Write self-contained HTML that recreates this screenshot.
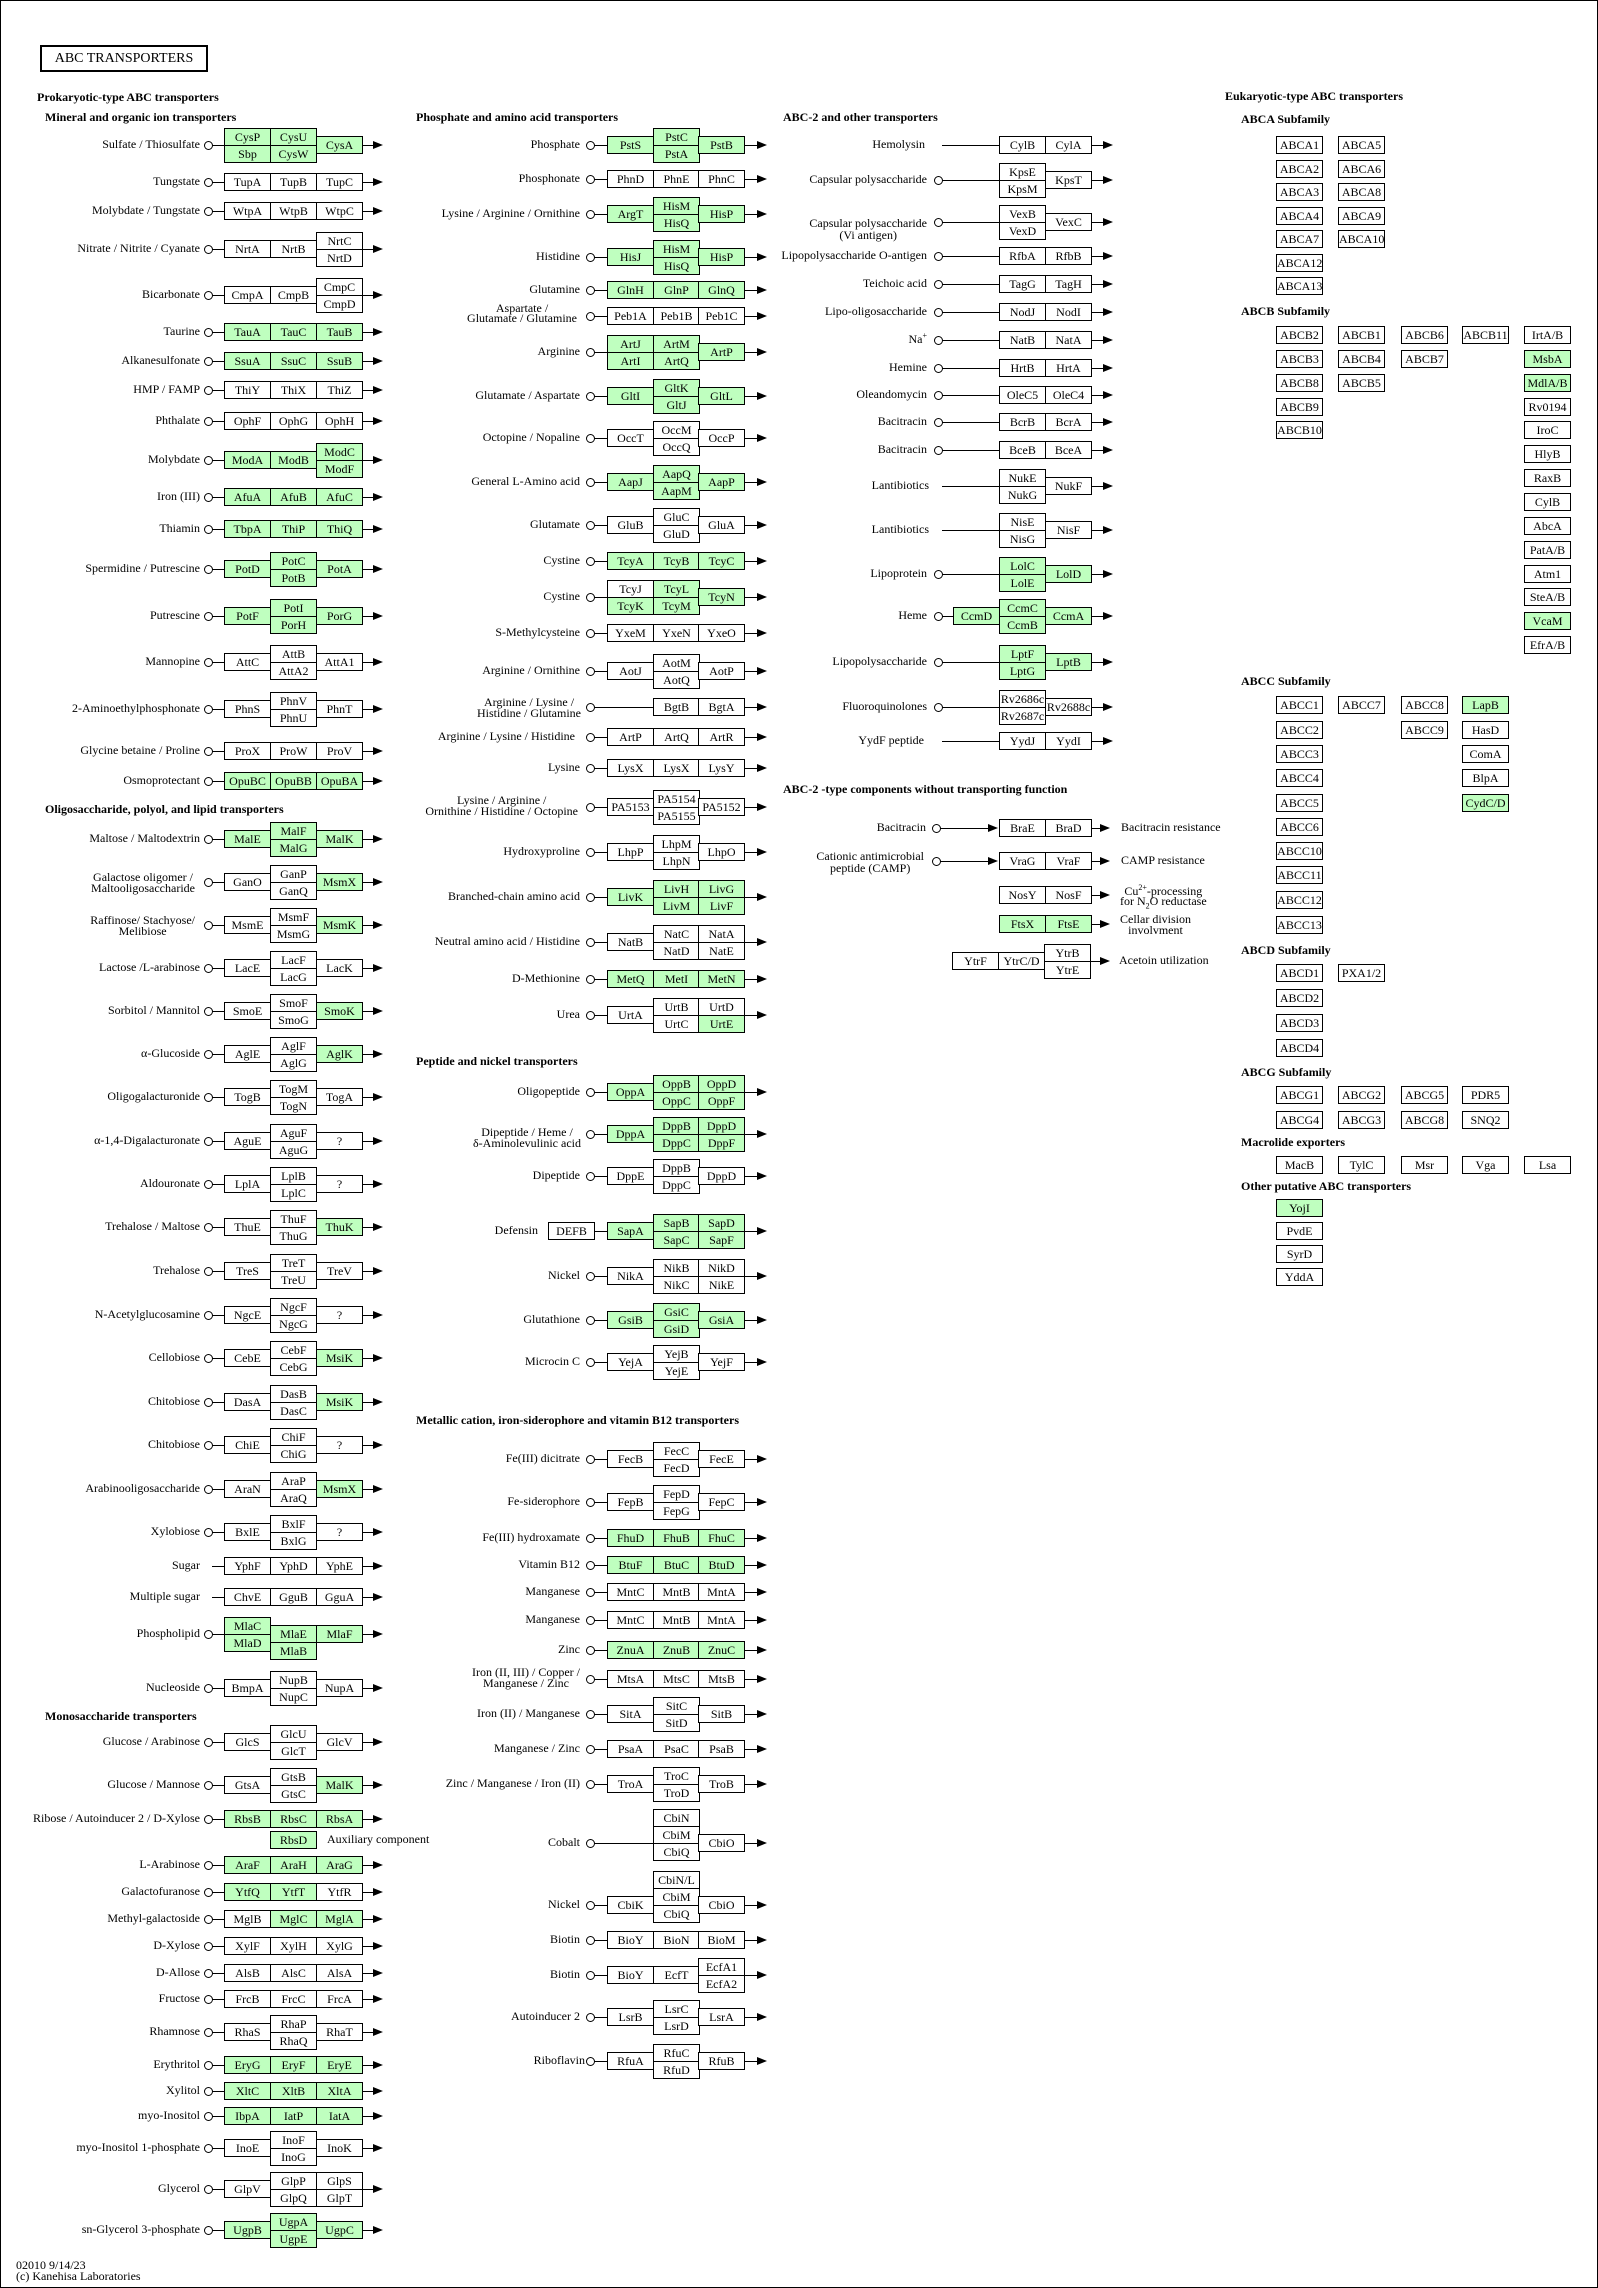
<!DOCTYPE html>
<html><head><meta charset="utf-8"><style>
body{margin:0;background:#fff}
#m{position:relative;width:1598px;height:2288px;overflow:hidden;font-family:"Liberation Serif",serif;font-size:12px;color:#000;background:#fff}
#m>*,#m .r>*{position:absolute;font-style:normal}
#m sup,#m sub{position:static;font-size:8px;line-height:0}
.fr{left:0;top:0;width:1598px;height:2288px;border:1px solid #000;box-sizing:border-box}
.r{left:0;width:1598px;height:0}
#m b,#m u{width:47px;height:18px;border:1px solid #000;box-sizing:border-box;background:#fff;text-align:center;line-height:16px;white-space:nowrap;font-weight:normal;text-decoration:none}
#m u{background:#bfffbf}
.s{top:-9px}.t{top:-17px}.u{top:0}.v{top:-34px}.w{top:8px}
.c{width:9px;height:9px;top:-4px;border:1.3px solid #000;border-radius:50%;box-sizing:border-box;background:#fff}
.n{height:0;top:0;border-top:1px solid #000}
.a{width:0;height:0;top:-4px;border-left:10px solid #000;border-top:4px solid transparent;border-bottom:4px solid transparent}
.L{top:-8px;line-height:15px;white-space:nowrap;text-align:right}
.L2{line-height:11px;white-space:nowrap;text-align:center}
.h{font-weight:bold;white-space:nowrap;line-height:13px}
.k1 .p1{left:224px}.k1 .p2{left:270px}.k1 .p3{left:316px}
.k1 .c{left:204px}.k1 .n{left:212px;width:162px}.k1 .a{left:373px}.k1 .L,.k1 .L2{right:1398px}
.k2 .p0{left:548px}.k2 .p1{left:607px}.k2 .p2{left:653px}.k2 .p3{left:698px}
.k2 .c{left:586px}.k2 .n{left:594px;width:164px}.k2 .a{left:757px}.k2 .L,.k2 .L2{right:1018px}
.k3 .p0{left:953px}.k3 .p1{left:999px}.k3 .p2{left:1045px}
.k3 .c{left:934px}.k3 .n{left:942px;width:162px}.k3 .a{left:1103px}.k3 .L,.k3 .L2{right:671px}
</style></head><body><div id="m">
<div class="fr"></div>
<i style="left:40px;top:45px;width:168px;height:27px;border:2px solid #000;box-sizing:border-box;font-size:14px;text-align:center;line-height:24px;white-space:nowrap">ABC TRANSPORTERS</i>

<i class="h" style="left:37px;top:91px">Prokaryotic-type ABC transporters</i>
<i class="h" style="left:45px;top:111px">Mineral and organic ion transporters</i>
<i class="h" style="left:45px;top:803px">Oligosaccharide, polyol, and lipid transporters</i>
<i class="h" style="left:45px;top:1710px">Monosaccharide transporters</i>
<i class="h" style="left:416px;top:111px">Phosphate and amino acid transporters</i>
<i class="h" style="left:416px;top:1055px">Peptide and nickel transporters</i>
<i class="h" style="left:416px;top:1414px">Metallic cation, iron-siderophore and vitamin B12 transporters</i>
<i class="h" style="left:783px;top:111px">ABC-2 and other transporters</i>
<i class="h" style="left:783px;top:783px">ABC-2 -type components without transporting function</i>
<i class="h" style="left:1225px;top:90px">Eukaryotic-type ABC transporters</i>
<i class="h" style="left:1241px;top:113px">ABCA Subfamily</i>
<i class="h" style="left:1241px;top:305px">ABCB Subfamily</i>
<i class="h" style="left:1241px;top:675px">ABCC Subfamily</i>
<i class="h" style="left:1241px;top:944px">ABCD Subfamily</i>
<i class="h" style="left:1241px;top:1066px">ABCG Subfamily</i>
<i class="h" style="left:1241px;top:1136px">Macrolide exporters</i>
<i class="h" style="left:1241px;top:1180px">Other putative ABC transporters</i>

<i style="left:16px;top:2259px;line-height:13px;white-space:nowrap">02010 9/14/23</i>
<i style="left:16px;top:2270px;line-height:13px;white-space:nowrap">(c) Kanehisa Laboratories</i>

<!-- Column 1 -->
<div class="r k1" style="top:145px"><i class="n"></i><i class="L">Sulfate / Thiosulfate</i><u class="p1 t">CysP</u><u class="p1 u">Sbp</u><u class="p2 t">CysU</u><u class="p2 u">CysW</u><u class="p3 s">CysA</u><i class="c"></i><i class="a"></i></div>
<div class="r k1" style="top:182px"><i class="n"></i><i class="L">Tungstate</i><b class="p1 s">TupA</b><b class="p2 s">TupB</b><b class="p3 s">TupC</b><i class="c"></i><i class="a"></i></div>
<div class="r k1" style="top:211px"><i class="n"></i><i class="L">Molybdate / Tungstate</i><b class="p1 s">WtpA</b><b class="p2 s">WtpB</b><b class="p3 s">WtpC</b><i class="c"></i><i class="a"></i></div>
<div class="r k1" style="top:249px"><i class="n"></i><i class="L">Nitrate / Nitrite / Cyanate</i><b class="p1 s">NrtA</b><b class="p2 s">NrtB</b><b class="p3 t">NrtC</b><b class="p3 u">NrtD</b><i class="c"></i><i class="a"></i></div>
<div class="r k1" style="top:295px"><i class="n"></i><i class="L">Bicarbonate</i><b class="p1 s">CmpA</b><b class="p2 s">CmpB</b><b class="p3 t">CmpC</b><b class="p3 u">CmpD</b><i class="c"></i><i class="a"></i></div>
<div class="r k1" style="top:332px"><i class="n"></i><i class="L">Taurine</i><u class="p1 s">TauA</u><u class="p2 s">TauC</u><u class="p3 s">TauB</u><i class="c"></i><i class="a"></i></div>
<div class="r k1" style="top:361px"><i class="n"></i><i class="L">Alkanesulfonate</i><u class="p1 s">SsuA</u><u class="p2 s">SsuC</u><u class="p3 s">SsuB</u><i class="c"></i><i class="a"></i></div>
<div class="r k1" style="top:390px"><i class="n"></i><i class="L">HMP / FAMP</i><b class="p1 s">ThiY</b><b class="p2 s">ThiX</b><b class="p3 s">ThiZ</b><i class="c"></i><i class="a"></i></div>
<div class="r k1" style="top:421px"><i class="n"></i><i class="L">Phthalate</i><b class="p1 s">OphF</b><b class="p2 s">OphG</b><b class="p3 s">OphH</b><i class="c"></i><i class="a"></i></div>
<div class="r k1" style="top:460px"><i class="n"></i><i class="L">Molybdate</i><u class="p1 s">ModA</u><u class="p2 s">ModB</u><u class="p3 t">ModC</u><u class="p3 u">ModF</u><i class="c"></i><i class="a"></i></div>
<div class="r k1" style="top:497px"><i class="n"></i><i class="L">Iron (III)</i><u class="p1 s">AfuA</u><u class="p2 s">AfuB</u><u class="p3 s">AfuC</u><i class="c"></i><i class="a"></i></div>
<div class="r k1" style="top:529px"><i class="n"></i><i class="L">Thiamin</i><u class="p1 s">TbpA</u><u class="p2 s">ThiP</u><u class="p3 s">ThiQ</u><i class="c"></i><i class="a"></i></div>
<div class="r k1" style="top:569px"><i class="n"></i><i class="L">Spermidine / Putrescine</i><u class="p1 s">PotD</u><u class="p2 t">PotC</u><u class="p2 u">PotB</u><u class="p3 s">PotA</u><i class="c"></i><i class="a"></i></div>
<div class="r k1" style="top:616px"><i class="n"></i><i class="L">Putrescine</i><u class="p1 s">PotF</u><u class="p2 t">PotI</u><u class="p2 u">PorH</u><u class="p3 s">PorG</u><i class="c"></i><i class="a"></i></div>
<div class="r k1" style="top:662px"><i class="n"></i><i class="L">Mannopine</i><b class="p1 s">AttC</b><b class="p2 t">AttB</b><b class="p2 u">AttA2</b><b class="p3 s">AttA1</b><i class="c"></i><i class="a"></i></div>
<div class="r k1" style="top:709px"><i class="n"></i><i class="L">2-Aminoethylphosphonate</i><b class="p1 s">PhnS</b><b class="p2 t">PhnV</b><b class="p2 u">PhnU</b><b class="p3 s">PhnT</b><i class="c"></i><i class="a"></i></div>
<div class="r k1" style="top:751px"><i class="n"></i><i class="L">Glycine betaine / Proline</i><b class="p1 s">ProX</b><b class="p2 s">ProW</b><b class="p3 s">ProV</b><i class="c"></i><i class="a"></i></div>
<div class="r k1" style="top:781px"><i class="n"></i><i class="L">Osmoprotectant</i><u class="p1 s">OpuBC</u><u class="p2 s">OpuBB</u><u class="p3 s">OpuBA</u><i class="c"></i><i class="a"></i></div>
<div class="r k1" style="top:839px"><i class="n"></i><i class="L">Maltose / Maltodextrin</i><u class="p1 s">MalE</u><u class="p2 t">MalF</u><u class="p2 u">MalG</u><u class="p3 s">MalK</u><i class="c"></i><i class="a"></i></div>
<div class="r k1" style="top:882px"><i class="n"></i><i class="L2" style="top:-10px;right:1403px">Galactose oligomer /<br>Maltooligosaccharide</i><b class="p1 s">GanO</b><b class="p2 t">GanP</b><b class="p2 u">GanQ</b><u class="p3 s">MsmX</u><i class="c"></i><i class="a"></i></div>
<div class="r k1" style="top:925px"><i class="n"></i><i class="L2" style="top:-10px;right:1403px">Raffinose/ Stachyose/<br>Melibiose</i><b class="p1 s">MsmE</b><b class="p2 t">MsmF</b><b class="p2 u">MsmG</b><u class="p3 s">MsmK</u><i class="c"></i><i class="a"></i></div>
<div class="r k1" style="top:968px"><i class="n"></i><i class="L">Lactose /L-arabinose</i><b class="p1 s">LacE</b><b class="p2 t">LacF</b><b class="p2 u">LacG</b><b class="p3 s">LacK</b><i class="c"></i><i class="a"></i></div>
<div class="r k1" style="top:1011px"><i class="n"></i><i class="L">Sorbitol / Mannitol</i><b class="p1 s">SmoE</b><b class="p2 t">SmoF</b><b class="p2 u">SmoG</b><u class="p3 s">SmoK</u><i class="c"></i><i class="a"></i></div>
<div class="r k1" style="top:1054px"><i class="n"></i><i class="L">α-Glucoside</i><b class="p1 s">AglE</b><b class="p2 t">AglF</b><b class="p2 u">AglG</b><u class="p3 s">AglK</u><i class="c"></i><i class="a"></i></div>
<div class="r k1" style="top:1097px"><i class="n"></i><i class="L">Oligogalacturonide</i><b class="p1 s">TogB</b><b class="p2 t">TogM</b><b class="p2 u">TogN</b><b class="p3 s">TogA</b><i class="c"></i><i class="a"></i></div>
<div class="r k1" style="top:1141px"><i class="n"></i><i class="L">α-1,4-Digalacturonate</i><b class="p1 s">AguE</b><b class="p2 t">AguF</b><b class="p2 u">AguG</b><b class="p3 s">?</b><i class="c"></i><i class="a"></i></div>
<div class="r k1" style="top:1184px"><i class="n"></i><i class="L">Aldouronate</i><b class="p1 s">LplA</b><b class="p2 t">LplB</b><b class="p2 u">LplC</b><b class="p3 s">?</b><i class="c"></i><i class="a"></i></div>
<div class="r k1" style="top:1227px"><i class="n"></i><i class="L">Trehalose / Maltose</i><b class="p1 s">ThuE</b><b class="p2 t">ThuF</b><b class="p2 u">ThuG</b><u class="p3 s">ThuK</u><i class="c"></i><i class="a"></i></div>
<div class="r k1" style="top:1271px"><i class="n"></i><i class="L">Trehalose</i><b class="p1 s">TreS</b><b class="p2 t">TreT</b><b class="p2 u">TreU</b><b class="p3 s">TreV</b><i class="c"></i><i class="a"></i></div>
<div class="r k1" style="top:1315px"><i class="n"></i><i class="L">N-Acetylglucosamine</i><b class="p1 s">NgcE</b><b class="p2 t">NgcF</b><b class="p2 u">NgcG</b><b class="p3 s">?</b><i class="c"></i><i class="a"></i></div>
<div class="r k1" style="top:1358px"><i class="n"></i><i class="L">Cellobiose</i><b class="p1 s">CebE</b><b class="p2 t">CebF</b><b class="p2 u">CebG</b><u class="p3 s">MsiK</u><i class="c"></i><i class="a"></i></div>
<div class="r k1" style="top:1402px"><i class="n"></i><i class="L">Chitobiose</i><b class="p1 s">DasA</b><b class="p2 t">DasB</b><b class="p2 u">DasC</b><u class="p3 s">MsiK</u><i class="c"></i><i class="a"></i></div>
<div class="r k1" style="top:1445px"><i class="n"></i><i class="L">Chitobiose</i><b class="p1 s">ChiE</b><b class="p2 t">ChiF</b><b class="p2 u">ChiG</b><b class="p3 s">?</b><i class="c"></i><i class="a"></i></div>
<div class="r k1" style="top:1489px"><i class="n"></i><i class="L">Arabinooligosaccharide</i><b class="p1 s">AraN</b><b class="p2 t">AraP</b><b class="p2 u">AraQ</b><u class="p3 s">MsmX</u><i class="c"></i><i class="a"></i></div>
<div class="r k1" style="top:1532px"><i class="n"></i><i class="L">Xylobiose</i><b class="p1 s">BxlE</b><b class="p2 t">BxlF</b><b class="p2 u">BxlG</b><b class="p3 s">?</b><i class="c"></i><i class="a"></i></div>
<div class="r k1" style="top:1566px"><i class="n"></i><i class="L">Sugar</i><b class="p1 s">YphF</b><b class="p2 s">YphD</b><b class="p3 s">YphE</b><i class="a"></i></div>
<div class="r k1" style="top:1597px"><i class="n"></i><i class="L">Multiple sugar</i><b class="p1 s">ChvE</b><b class="p2 s">GguB</b><b class="p3 s">GguA</b><i class="a"></i></div>
<div class="r k1" style="top:1634px"><i class="n"></i><i class="L">Phospholipid</i><u class="p1 t">MlaC</u><u class="p1 u">MlaD</u><u class="p2 s">MlaE</u><u class="p2 w">MlaB</u><u class="p3 s">MlaF</u><i class="c"></i><i class="a"></i></div>
<div class="r k1" style="top:1688px"><i class="n"></i><i class="L">Nucleoside</i><b class="p1 s">BmpA</b><b class="p2 t">NupB</b><b class="p2 u">NupC</b><b class="p3 s">NupA</b><i class="c"></i><i class="a"></i></div>
<div class="r k1" style="top:1742px"><i class="n"></i><i class="L">Glucose / Arabinose</i><b class="p1 s">GlcS</b><b class="p2 t">GlcU</b><b class="p2 u">GlcT</b><b class="p3 s">GlcV</b><i class="c"></i><i class="a"></i></div>
<div class="r k1" style="top:1785px"><i class="n"></i><i class="L">Glucose / Mannose</i><b class="p1 s">GtsA</b><b class="p2 t">GtsB</b><b class="p2 u">GtsC</b><u class="p3 s">MalK</u><i class="c"></i><i class="a"></i></div>
<div class="r k1" style="top:1819px"><i class="n"></i><i class="L">Ribose / Autoinducer 2 / D-Xylose</i><u class="p1 s">RbsB</u><u class="p2 s">RbsC</u><u class="p3 s">RbsA</u><u class="p2" style="top:12px">RbsD</u><i class="L" style="left:327px;top:13px;text-align:left">Auxiliary component</i><i class="c"></i><i class="a"></i></div>
<div class="r k1" style="top:1865px"><i class="n"></i><i class="L">L-Arabinose</i><u class="p1 s">AraF</u><u class="p2 s">AraH</u><u class="p3 s">AraG</u><i class="c"></i><i class="a"></i></div>
<div class="r k1" style="top:1892px"><i class="n"></i><i class="L">Galactofuranose</i><u class="p1 s">YtfQ</u><u class="p2 s">YtfT</u><b class="p3 s">YtfR</b><i class="c"></i><i class="a"></i></div>
<div class="r k1" style="top:1919px"><i class="n"></i><i class="L">Methyl-galactoside</i><b class="p1 s">MglB</b><u class="p2 s">MglC</u><u class="p3 s">MglA</u><i class="c"></i><i class="a"></i></div>
<div class="r k1" style="top:1946px"><i class="n"></i><i class="L">D-Xylose</i><b class="p1 s">XylF</b><b class="p2 s">XylH</b><b class="p3 s">XylG</b><i class="c"></i><i class="a"></i></div>
<div class="r k1" style="top:1973px"><i class="n"></i><i class="L">D-Allose</i><b class="p1 s">AlsB</b><b class="p2 s">AlsC</b><b class="p3 s">AlsA</b><i class="c"></i><i class="a"></i></div>
<div class="r k1" style="top:1999px"><i class="n"></i><i class="L">Fructose</i><b class="p1 s">FrcB</b><b class="p2 s">FrcC</b><b class="p3 s">FrcA</b><i class="c"></i><i class="a"></i></div>
<div class="r k1" style="top:2032px"><i class="n"></i><i class="L">Rhamnose</i><b class="p1 s">RhaS</b><b class="p2 t">RhaP</b><b class="p2 u">RhaQ</b><b class="p3 s">RhaT</b><i class="c"></i><i class="a"></i></div>
<div class="r k1" style="top:2065px"><i class="n"></i><i class="L">Erythritol</i><u class="p1 s">EryG</u><u class="p2 s">EryF</u><u class="p3 s">EryE</u><i class="c"></i><i class="a"></i></div>
<div class="r k1" style="top:2091px"><i class="n"></i><i class="L">Xylitol</i><u class="p1 s">XltC</u><u class="p2 s">XltB</u><u class="p3 s">XltA</u><i class="c"></i><i class="a"></i></div>
<div class="r k1" style="top:2116px"><i class="n"></i><i class="L">myo-Inositol</i><u class="p1 s">IbpA</u><u class="p2 s">IatP</u><u class="p3 s">IatA</u><i class="c"></i><i class="a"></i></div>
<div class="r k1" style="top:2148px"><i class="n"></i><i class="L">myo-Inositol 1-phosphate</i><b class="p1 s">InoE</b><b class="p2 t">InoF</b><b class="p2 u">InoG</b><b class="p3 s">InoK</b><i class="c"></i><i class="a"></i></div>
<div class="r k1" style="top:2189px"><i class="n"></i><i class="L">Glycerol</i><b class="p1 s">GlpV</b><b class="p2 t">GlpP</b><b class="p2 u">GlpQ</b><b class="p3 t">GlpS</b><b class="p3 u">GlpT</b><i class="c"></i><i class="a"></i></div>
<div class="r k1" style="top:2230px"><i class="n"></i><i class="L">sn-Glycerol 3-phosphate</i><u class="p1 s">UgpB</u><u class="p2 t">UgpA</u><u class="p2 u">UgpE</u><u class="p3 s">UgpC</u><i class="c"></i><i class="a"></i></div>

<!-- Column 2 -->
<div class="r k2" style="top:145px"><i class="n"></i><i class="L">Phosphate</i><u class="p1 s">PstS</u><u class="p2 t">PstC</u><u class="p2 u">PstA</u><u class="p3 s">PstB</u><i class="c"></i><i class="a"></i></div>
<div class="r k2" style="top:179px"><i class="n"></i><i class="L">Phosphonate</i><b class="p1 s">PhnD</b><b class="p2 s">PhnE</b><b class="p3 s">PhnC</b><i class="c"></i><i class="a"></i></div>
<div class="r k2" style="top:214px"><i class="n"></i><i class="L">Lysine / Arginine / Ornithine</i><u class="p1 s">ArgT</u><u class="p2 t">HisM</u><u class="p2 u">HisQ</u><u class="p3 s">HisP</u><i class="c"></i><i class="a"></i></div>
<div class="r k2" style="top:257px"><i class="n"></i><i class="L">Histidine</i><u class="p1 s">HisJ</u><u class="p2 t">HisM</u><u class="p2 u">HisQ</u><u class="p3 s">HisP</u><i class="c"></i><i class="a"></i></div>
<div class="r k2" style="top:290px"><i class="n"></i><i class="L">Glutamine</i><u class="p1 s">GlnH</u><u class="p2 s">GlnP</u><u class="p3 s">GlnQ</u><i class="c"></i><i class="a"></i></div>
<div class="r k2" style="top:316px"><i class="n"></i><i class="L2" style="top:-13px;line-height:10px;right:1021px">Aspartate /<br>Glutamate / Glutamine</i><b class="p1 s">Peb1A</b><b class="p2 s">Peb1B</b><b class="p3 s">Peb1C</b><i class="c"></i><i class="a"></i></div>
<div class="r k2" style="top:352px"><i class="n"></i><i class="L">Arginine</i><u class="p1 t">ArtJ</u><u class="p1 u">ArtI</u><u class="p2 t">ArtM</u><u class="p2 u">ArtQ</u><u class="p3 s">ArtP</u><i class="c"></i><i class="a"></i></div>
<div class="r k2" style="top:396px"><i class="n"></i><i class="L">Glutamate / Aspartate</i><u class="p1 s">GltI</u><u class="p2 t">GltK</u><u class="p2 u">GltJ</u><u class="p3 s">GltL</u><i class="c"></i><i class="a"></i></div>
<div class="r k2" style="top:438px"><i class="n"></i><i class="L">Octopine / Nopaline</i><b class="p1 s">OccT</b><b class="p2 t">OccM</b><b class="p2 u">OccQ</b><b class="p3 s">OccP</b><i class="c"></i><i class="a"></i></div>
<div class="r k2" style="top:482px"><i class="n"></i><i class="L">General L-Amino acid</i><u class="p1 s">AapJ</u><u class="p2 t">AapQ</u><u class="p2 u">AapM</u><u class="p3 s">AapP</u><i class="c"></i><i class="a"></i></div>
<div class="r k2" style="top:525px"><i class="n"></i><i class="L">Glutamate</i><b class="p1 s">GluB</b><b class="p2 t">GluC</b><b class="p2 u">GluD</b><b class="p3 s">GluA</b><i class="c"></i><i class="a"></i></div>
<div class="r k2" style="top:561px"><i class="n"></i><i class="L">Cystine</i><u class="p1 s">TcyA</u><u class="p2 s">TcyB</u><u class="p3 s">TcyC</u><i class="c"></i><i class="a"></i></div>
<div class="r k2" style="top:597px"><i class="n"></i><i class="L">Cystine</i><b class="p1 t">TcyJ</b><u class="p1 u">TcyK</u><u class="p2 t">TcyL</u><u class="p2 u">TcyM</u><u class="p3 s">TcyN</u><i class="c"></i><i class="a"></i></div>
<div class="r k2" style="top:633px"><i class="n"></i><i class="L">S-Methylcysteine</i><b class="p1 s">YxeM</b><b class="p2 s">YxeN</b><b class="p3 s">YxeO</b><i class="c"></i><i class="a"></i></div>
<div class="r k2" style="top:671px"><i class="n"></i><i class="L">Arginine / Ornithine</i><b class="p1 s">AotJ</b><b class="p2 t">AotM</b><b class="p2 u">AotQ</b><b class="p3 s">AotP</b><i class="c"></i><i class="a"></i></div>
<div class="r k2" style="top:707px"><i class="n"></i><i class="L2" style="top:-10px;right:1017px">Arginine / Lysine /<br>Histidine / Glutamine</i><b class="p2 s">BgtB</b><b class="p3 s">BgtA</b><i class="c"></i><i class="a"></i></div>
<div class="r k2" style="top:737px"><i class="n"></i><i class="L" style="right:1023px">Arginine / Lysine / Histidine</i><b class="p1 s">ArtP</b><b class="p2 s">ArtQ</b><b class="p3 s">ArtR</b><i class="c"></i><i class="a"></i></div>
<div class="r k2" style="top:768px"><i class="n"></i><i class="L">Lysine</i><b class="p1 s">LysX</b><b class="p2 s">LysX</b><b class="p3 s">LysY</b><i class="c"></i><i class="a"></i></div>
<div class="r k2" style="top:807px"><i class="n"></i><i class="L2" style="top:-12px;right:1020px">Lysine / Arginine /<br>Ornithine / Histidine / Octopine</i><b class="p1 s">PA5153</b><b class="p2 t">PA5154</b><b class="p2 u">PA5155</b><b class="p3 s">PA5152</b><i class="c"></i><i class="a"></i></div>
<div class="r k2" style="top:852px"><i class="n"></i><i class="L">Hydroxyproline</i><b class="p1 s">LhpP</b><b class="p2 t">LhpM</b><b class="p2 u">LhpN</b><b class="p3 s">LhpO</b><i class="c"></i><i class="a"></i></div>
<div class="r k2" style="top:897px"><i class="n"></i><i class="L">Branched-chain amino acid</i><u class="p1 s">LivK</u><u class="p2 t">LivH</u><u class="p2 u">LivM</u><u class="p3 t">LivG</u><u class="p3 u">LivF</u><i class="c"></i><i class="a"></i></div>
<div class="r k2" style="top:942px"><i class="n"></i><i class="L">Neutral amino acid / Histidine</i><b class="p1 s">NatB</b><b class="p2 t">NatC</b><b class="p2 u">NatD</b><b class="p3 t">NatA</b><b class="p3 u">NatE</b><i class="c"></i><i class="a"></i></div>
<div class="r k2" style="top:979px"><i class="n"></i><i class="L">D-Methionine</i><u class="p1 s">MetQ</u><u class="p2 s">MetI</u><u class="p3 s">MetN</u><i class="c"></i><i class="a"></i></div>
<div class="r k2" style="top:1015px"><i class="n"></i><i class="L">Urea</i><b class="p1 s">UrtA</b><b class="p2 t">UrtB</b><b class="p2 u">UrtC</b><b class="p3 t">UrtD</b><u class="p3 u">UrtE</u><i class="c"></i><i class="a"></i></div>
<div class="r k2" style="top:1092px"><i class="n"></i><i class="L">Oligopeptide</i><u class="p1 s">OppA</u><u class="p2 t">OppB</u><u class="p2 u">OppC</u><u class="p3 t">OppD</u><u class="p3 u">OppF</u><i class="c"></i><i class="a"></i></div>
<div class="r k2" style="top:1134px"><i class="n"></i><i class="L2" style="top:-7px;right:1017px">Dipeptide / Heme /<br>δ-Aminolevulinic acid</i><u class="p1 s">DppA</u><u class="p2 t">DppB</u><u class="p2 u">DppC</u><u class="p3 t">DppD</u><u class="p3 u">DppF</u><i class="c"></i><i class="a"></i></div>
<div class="r k2" style="top:1176px"><i class="n"></i><i class="L">Dipeptide</i><b class="p1 s">DppE</b><b class="p2 t">DppB</b><b class="p2 u">DppC</b><b class="p3 s">DppD</b><i class="c"></i><i class="a"></i></div>
<div class="r k2" style="top:1231px"><i class="n"></i><i class="L" style="right:1060px">Defensin</i><b class="p0 s">DEFB</b><u class="p1 s">SapA</u><u class="p2 t">SapB</u><u class="p2 u">SapC</u><u class="p3 t">SapD</u><u class="p3 u">SapF</u><i class="a"></i></div>
<div class="r k2" style="top:1276px"><i class="n"></i><i class="L">Nickel</i><b class="p1 s">NikA</b><b class="p2 t">NikB</b><b class="p2 u">NikC</b><b class="p3 t">NikD</b><b class="p3 u">NikE</b><i class="c"></i><i class="a"></i></div>
<div class="r k2" style="top:1320px"><i class="n"></i><i class="L">Glutathione</i><u class="p1 s">GsiB</u><u class="p2 t">GsiC</u><u class="p2 u">GsiD</u><u class="p3 s">GsiA</u><i class="c"></i><i class="a"></i></div>
<div class="r k2" style="top:1362px"><i class="n"></i><i class="L">Microcin C</i><b class="p1 s">YejA</b><b class="p2 t">YejB</b><b class="p2 u">YejE</b><b class="p3 s">YejF</b><i class="c"></i><i class="a"></i></div>
<div class="r k2" style="top:1459px"><i class="n"></i><i class="L">Fe(III) dicitrate</i><b class="p1 s">FecB</b><b class="p2 t">FecC</b><b class="p2 u">FecD</b><b class="p3 s">FecE</b><i class="c"></i><i class="a"></i></div>
<div class="r k2" style="top:1502px"><i class="n"></i><i class="L">Fe-siderophore</i><b class="p1 s">FepB</b><b class="p2 t">FepD</b><b class="p2 u">FepG</b><b class="p3 s">FepC</b><i class="c"></i><i class="a"></i></div>
<div class="r k2" style="top:1538px"><i class="n"></i><i class="L">Fe(III) hydroxamate</i><u class="p1 s">FhuD</u><u class="p2 s">FhuB</u><u class="p3 s">FhuC</u><i class="c"></i><i class="a"></i></div>
<div class="r k2" style="top:1565px"><i class="n"></i><i class="L">Vitamin B12</i><u class="p1 s">BtuF</u><u class="p2 s">BtuC</u><u class="p3 s">BtuD</u><i class="c"></i><i class="a"></i></div>
<div class="r k2" style="top:1592px"><i class="n"></i><i class="L">Manganese</i><b class="p1 s">MntC</b><b class="p2 s">MntB</b><b class="p3 s">MntA</b><i class="c"></i><i class="a"></i></div>
<div class="r k2" style="top:1620px"><i class="n"></i><i class="L">Manganese</i><b class="p1 s">MntC</b><b class="p2 s">MntB</b><b class="p3 s">MntA</b><i class="c"></i><i class="a"></i></div>
<div class="r k2" style="top:1650px"><i class="n"></i><i class="L">Zinc</i><u class="p1 s">ZnuA</u><u class="p2 s">ZnuB</u><u class="p3 s">ZnuC</u><i class="c"></i><i class="a"></i></div>
<div class="r k2" style="top:1679px"><i class="n"></i><i class="L2" style="top:-12px;right:1018px">Iron (II, III) / Copper /<br>Manganese / Zinc</i><b class="p1 s">MtsA</b><b class="p2 s">MtsC</b><b class="p3 s">MtsB</b><i class="c"></i><i class="a"></i></div>
<div class="r k2" style="top:1714px"><i class="n"></i><i class="L">Iron (II) / Manganese</i><b class="p1 s">SitA</b><b class="p2 t">SitC</b><b class="p2 u">SitD</b><b class="p3 s">SitB</b><i class="c"></i><i class="a"></i></div>
<div class="r k2" style="top:1749px"><i class="n"></i><i class="L">Manganese / Zinc</i><b class="p1 s">PsaA</b><b class="p2 s">PsaC</b><b class="p3 s">PsaB</b><i class="c"></i><i class="a"></i></div>
<div class="r k2" style="top:1784px"><i class="n"></i><i class="L">Zinc / Manganese / Iron (II)</i><b class="p1 s">TroA</b><b class="p2 t">TroC</b><b class="p2 u">TroD</b><b class="p3 s">TroB</b><i class="c"></i><i class="a"></i></div>
<div class="r k2" style="top:1843px"><i class="n"></i><i class="L">Cobalt</i><b class="p2 v">CbiN</b><b class="p2 t">CbiM</b><b class="p2 u">CbiQ</b><b class="p3 s">CbiO</b><i class="c"></i><i class="a"></i></div>
<div class="r k2" style="top:1905px"><i class="n"></i><i class="L">Nickel</i><b class="p1 s">CbiK</b><b class="p2 v">CbiN/L</b><b class="p2 t">CbiM</b><b class="p2 u">CbiQ</b><b class="p3 s">CbiO</b><i class="c"></i><i class="a"></i></div>
<div class="r k2" style="top:1940px"><i class="n"></i><i class="L">Biotin</i><b class="p1 s">BioY</b><b class="p2 s">BioN</b><b class="p3 s">BioM</b><i class="c"></i><i class="a"></i></div>
<div class="r k2" style="top:1975px"><i class="n"></i><i class="L">Biotin</i><b class="p1 s">BioY</b><b class="p2 s">EcfT</b><b class="p3 t">EcfA1</b><b class="p3 u">EcfA2</b><i class="c"></i><i class="a"></i></div>
<div class="r k2" style="top:2017px"><i class="n"></i><i class="L">Autoinducer 2</i><b class="p1 s">LsrB</b><b class="p2 t">LsrC</b><b class="p2 u">LsrD</b><b class="p3 s">LsrA</b><i class="c"></i><i class="a"></i></div>
<div class="r k2" style="top:2061px"><i class="n"></i><i class="L" style="right:1013px">Riboflavin</i><b class="p1 s">RfuA</b><b class="p2 t">RfuC</b><b class="p2 u">RfuD</b><b class="p3 s">RfuB</b><i class="c"></i><i class="a"></i></div>

<!-- Column 3 -->
<div class="r k3" style="top:145px"><i class="n"></i><i class="L" style="right:673px">Hemolysin</i><b class="p1 s">CylB</b><b class="p2 s">CylA</b><i class="a"></i></div>
<div class="r k3" style="top:180px"><i class="n"></i><i class="L">Capsular polysaccharide</i><b class="p1 t">KpsE</b><b class="p1 u">KpsM</b><b class="p2 s">KpsT</b><i class="c"></i><i class="a"></i></div>
<div class="r k3" style="top:222px"><i class="n"></i><i class="L2" style="top:-5px;line-height:12px">Capsular polysaccharide<br>(Vi antigen)</i><b class="p1 t">VexB</b><b class="p1 u">VexD</b><b class="p2 s">VexC</b><i class="c"></i><i class="a"></i></div>
<div class="r k3" style="top:256px"><i class="n"></i><i class="L">Lipopolysaccharide O-antigen</i><b class="p1 s">RfbA</b><b class="p2 s">RfbB</b><i class="c"></i><i class="a"></i></div>
<div class="r k3" style="top:284px"><i class="n"></i><i class="L">Teichoic acid</i><b class="p1 s">TagG</b><b class="p2 s">TagH</b><i class="c"></i><i class="a"></i></div>
<div class="r k3" style="top:312px"><i class="n"></i><i class="L">Lipo-oligosaccharide</i><b class="p1 s">NodJ</b><b class="p2 s">NodI</b><i class="c"></i><i class="a"></i></div>
<div class="r k3" style="top:340px"><i class="n"></i><i class="L">Na<sup>+</sup></i><b class="p1 s">NatB</b><b class="p2 s">NatA</b><i class="c"></i><i class="a"></i></div>
<div class="r k3" style="top:368px"><i class="n"></i><i class="L">Hemine</i><b class="p1 s">HrtB</b><b class="p2 s">HrtA</b><i class="c"></i><i class="a"></i></div>
<div class="r k3" style="top:395px"><i class="n"></i><i class="L">Oleandomycin</i><b class="p1 s">OleC5</b><b class="p2 s">OleC4</b><i class="c"></i><i class="a"></i></div>
<div class="r k3" style="top:422px"><i class="n"></i><i class="L">Bacitracin</i><b class="p1 s">BcrB</b><b class="p2 s">BcrA</b><i class="c"></i><i class="a"></i></div>
<div class="r k3" style="top:450px"><i class="n"></i><i class="L">Bacitracin</i><b class="p1 s">BceB</b><b class="p2 s">BceA</b><i class="c"></i><i class="a"></i></div>
<div class="r k3" style="top:486px"><i class="n"></i><i class="L" style="right:669px">Lantibiotics</i><b class="p1 t">NukE</b><b class="p1 u">NukG</b><b class="p2 s">NukF</b><i class="a"></i></div>
<div class="r k3" style="top:530px"><i class="n"></i><i class="L" style="right:669px">Lantibiotics</i><b class="p1 t">NisE</b><b class="p1 u">NisG</b><b class="p2 s">NisF</b><i class="a"></i></div>
<div class="r k3" style="top:574px"><i class="n"></i><i class="L">Lipoprotein</i><u class="p1 t">LolC</u><u class="p1 u">LolE</u><u class="p2 s">LolD</u><i class="c"></i><i class="a"></i></div>
<div class="r k3" style="top:616px"><i class="n"></i><i class="L">Heme</i><u class="p0 s">CcmD</u><u class="p1 t">CcmC</u><u class="p1 u">CcmB</u><u class="p2 s">CcmA</u><i class="c"></i><i class="a"></i></div>
<div class="r k3" style="top:662px"><i class="n"></i><i class="L">Lipopolysaccharide</i><u class="p1 t">LptF</u><u class="p1 u">LptG</u><u class="p2 s">LptB</u><i class="c"></i><i class="a"></i></div>
<div class="r k3" style="top:707px"><i class="n"></i><i class="L">Fluoroquinolones</i><b class="p1 t">Rv2686c</b><b class="p1 u">Rv2687c</b><b class="p2 s">Rv2688c</b><i class="c"></i><i class="a"></i></div>
<div class="r k3" style="top:741px"><i class="n"></i><i class="L" style="right:674px">YydF peptide</i><b class="p1 s">YydJ</b><b class="p2 s">YydI</b><i class="a"></i></div>

<div class="r" style="top:828px"><i class="L" style="right:672px">Bacitracin</i><i class="n" style="left:940px;width:48px"></i><i class="c" style="left:932px"></i><i class="a" style="left:988px"></i><b class="s" style="left:999px">BraE</b><b class="s" style="left:1045px">BraD</b><i class="n" style="left:1091px;width:10px"></i><i class="a" style="left:1100px"></i><i class="L" style="left:1121px;text-align:left">Bacitracin resistance</i></div>
<div class="r" style="top:861px"><i class="L2" style="right:674px;top:-10px;line-height:11.5px">Cationic antimicrobial<br>peptide (CAMP)</i><i class="n" style="left:940px;width:48px"></i><i class="c" style="left:932px"></i><i class="a" style="left:988px"></i><b class="s" style="left:999px">VraG</b><b class="s" style="left:1045px">VraF</b><i class="n" style="left:1091px;width:10px"></i><i class="a" style="left:1100px"></i><i class="L" style="left:1121px;text-align:left">CAMP resistance</i></div>
<div class="r" style="top:895px"><b class="s" style="left:999px">NosY</b><b class="s" style="left:1045px">NosF</b><i class="n" style="left:1091px;width:10px"></i><i class="a" style="left:1100px"></i><i class="L2" style="left:1120px;top:-9px;line-height:10px">Cu<sup>2+</sup>-processing<br>for N<sub>2</sub>O reductase</i></div>
<div class="r" style="top:924px"><u class="s" style="left:999px">FtsX</u><u class="s" style="left:1045px">FtsE</u><i class="n" style="left:1091px;width:10px"></i><i class="a" style="left:1100px"></i><i class="L2" style="left:1120px;top:-10px;line-height:11px">Cellar division<br>involvment</i></div>
<div class="r" style="top:961px"><b class="s" style="left:952px">YtrF</b><b class="s" style="left:998px">YtrC/D</b><b class="t" style="left:1044px">YtrB</b><b class="u" style="left:1044px">YtrE</b><i class="n" style="left:1091px;width:10px"></i><i class="a" style="left:1100px"></i><i class="L" style="left:1119px;text-align:left">Acetoin utilization</i></div>

<!-- Column 4 -->
<b style="left:1276px;top:136px">ABCA1</b><b style="left:1338px;top:136px">ABCA5</b>
<b style="left:1276px;top:160px">ABCA2</b><b style="left:1338px;top:160px">ABCA6</b>
<b style="left:1276px;top:183px">ABCA3</b><b style="left:1338px;top:183px">ABCA8</b>
<b style="left:1276px;top:207px">ABCA4</b><b style="left:1338px;top:207px">ABCA9</b>
<b style="left:1276px;top:230px">ABCA7</b><b style="left:1338px;top:230px">ABCA10</b>
<b style="left:1276px;top:254px">ABCA12</b>
<b style="left:1276px;top:277px">ABCA13</b>

<b style="left:1276px;top:326px">ABCB2</b><b style="left:1338px;top:326px">ABCB1</b><b style="left:1401px;top:326px">ABCB6</b><b style="left:1462px;top:326px">ABCB11</b><b style="left:1524px;top:326px">IrtA/B</b>
<b style="left:1276px;top:350px">ABCB3</b><b style="left:1338px;top:350px">ABCB4</b><b style="left:1401px;top:350px">ABCB7</b><u style="left:1524px;top:350px">MsbA</u>
<b style="left:1276px;top:374px">ABCB8</b><b style="left:1338px;top:374px">ABCB5</b><u style="left:1524px;top:374px">MdlA/B</u>
<b style="left:1276px;top:398px">ABCB9</b><b style="left:1524px;top:398px">Rv0194</b>
<b style="left:1276px;top:421px">ABCB10</b><b style="left:1524px;top:421px">IroC</b>
<b style="left:1524px;top:445px">HlyB</b>
<b style="left:1524px;top:469px">RaxB</b>
<b style="left:1524px;top:493px">CylB</b>
<b style="left:1524px;top:517px">AbcA</b>
<b style="left:1524px;top:541px">PatA/B</b>
<b style="left:1524px;top:565px">Atm1</b>
<b style="left:1524px;top:588px">SteA/B</b>
<u style="left:1524px;top:612px">VcaM</u>
<b style="left:1524px;top:636px">EfrA/B</b>

<b style="left:1276px;top:696px">ABCC1</b><b style="left:1338px;top:696px">ABCC7</b><b style="left:1401px;top:696px">ABCC8</b><u style="left:1462px;top:696px">LapB</u>
<b style="left:1276px;top:721px">ABCC2</b><b style="left:1401px;top:721px">ABCC9</b><b style="left:1462px;top:721px">HasD</b>
<b style="left:1276px;top:745px">ABCC3</b><b style="left:1462px;top:745px">ComA</b>
<b style="left:1276px;top:769px">ABCC4</b><b style="left:1462px;top:769px">BlpA</b>
<b style="left:1276px;top:794px">ABCC5</b><u style="left:1462px;top:794px">CydC/D</u>
<b style="left:1276px;top:818px">ABCC6</b>
<b style="left:1276px;top:842px">ABCC10</b>
<b style="left:1276px;top:866px">ABCC11</b>
<b style="left:1276px;top:891px">ABCC12</b>
<b style="left:1276px;top:916px">ABCC13</b>

<b style="left:1276px;top:964px">ABCD1</b><b style="left:1338px;top:964px">PXA1/2</b>
<b style="left:1276px;top:989px">ABCD2</b>
<b style="left:1276px;top:1014px">ABCD3</b>
<b style="left:1276px;top:1039px">ABCD4</b>

<b style="left:1276px;top:1086px">ABCG1</b><b style="left:1338px;top:1086px">ABCG2</b><b style="left:1401px;top:1086px">ABCG5</b><b style="left:1462px;top:1086px">PDR5</b>
<b style="left:1276px;top:1111px">ABCG4</b><b style="left:1338px;top:1111px">ABCG3</b><b style="left:1401px;top:1111px">ABCG8</b><b style="left:1462px;top:1111px">SNQ2</b>

<b style="left:1276px;top:1156px">MacB</b><b style="left:1338px;top:1156px">TylC</b><b style="left:1401px;top:1156px">Msr</b><b style="left:1462px;top:1156px">Vga</b><b style="left:1524px;top:1156px">Lsa</b>

<u style="left:1276px;top:1199px">YojI</u>
<b style="left:1276px;top:1222px">PvdE</b>
<b style="left:1276px;top:1245px">SyrD</b>
<b style="left:1276px;top:1268px">YddA</b>
</div></body></html>
